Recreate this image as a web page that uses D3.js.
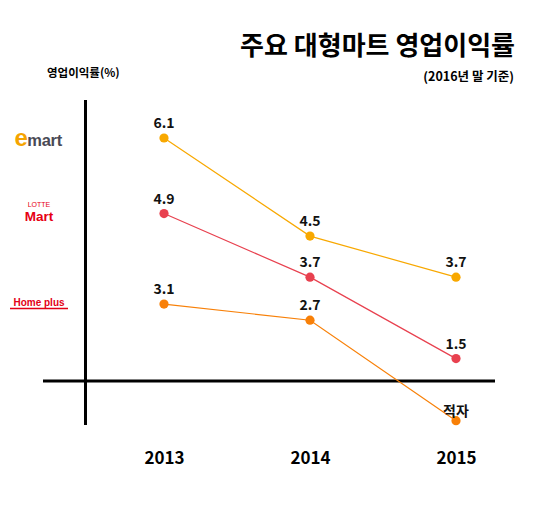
<!DOCTYPE html>
<html>
<head>
<meta charset="utf-8">
<script src="https://cdn.jsdelivr.net/npm/d3@7"></script>
<style>
  body { margin: 0; background: #fff; }
  text { font-family: "Noto Sans CJK KR", "Noto Sans", sans-serif; font-weight: bold; }
</style>
</head>
<body>
<script>
var years = ["2013", "2014", "2015"];
var emart = [6.1, 4.5, 3.7];
var lotte = [4.9, 3.7, 1.5];
var homeplus = [3.1, 2.7, -2.1];   // 2015 = deficit, shown as "적자"
var deficitLabel = "적자";

var w = 540;
var h = 518;

var svg = d3.select("body").append("svg")
  .attr("width", w)
  .attr("height", h);

var x = d3.scalePoint()
  .domain(years)
  .range([91, 529])
  .padding(0.5);

// the picture stretches the upper values, a pow scale follows it best
var y = d3.scalePow()
  .exponent(1.7)
  .domain([0, 6.1])
  .range([381, 138]);

// title
svg.append("text")
  .attr("x", 515)
  .attr("y", 55)
  .attr("text-anchor", "end")
  .style("font-size", "26px")
  .text("주요 대형마트 영업이익률");

svg.append("text")
  .attr("x", 514)
  .attr("y", 81)
  .attr("text-anchor", "end")
  .style("font-size", "12.5px")
  .text("(2016년 말 기준)");

svg.append("text")
  .attr("x", 47)
  .attr("y", 77)
  .style("font-size", "11.5px")
  .text("영업이익률(%)");

// axes
svg.append("line")
  .attr("x1", 85.5).attr("x2", 85.5)
  .attr("y1", 100).attr("y2", 425)
  .style("stroke", "#000")
  .style("stroke-width", 3);

svg.append("line")
  .attr("x1", 43).attr("x2", 495)
  .attr("y1", y(0)).attr("y2", y(0))
  .style("stroke", "#000")
  .style("stroke-width", 3);

var xAxis = svg.append("g")
  .attr("transform", "translate(0," + 447 + ")")
  .call(d3.axisBottom(x).tickSize(0).tickPadding(0));
xAxis.select(".domain").remove();
xAxis.selectAll("text")
  .attr("dy", "1em")
  .style("font-size", "17px")
  .style("font-family", "'Noto Sans CJK KR', sans-serif")
  .style("fill", "#000");

var series = [
  { name: "emart", values: emart, color: "#f8a800" },
  { name: "lotte", values: lotte, color: "#e8414f" },
  { name: "homeplus", values: homeplus, color: "#f88008" }
];

var line = d3.line()
  .x(function(d, i) { return x(years[i]); })
  .y(function(d) { return y(d); });

series.forEach(function(s) {
  var g = svg.append("g").attr("class", s.name);

  g.append("path")
    .datum(s.values)
    .attr("d", line)
    .style("fill", "none")
    .style("stroke", s.color)
    .style("stroke-width", 1.2);

  g.selectAll("circle")
    .data(s.values)
    .enter().append("circle")
    .attr("cx", function(d, i) { return x(years[i]); })
    .attr("cy", function(d) { return y(d); })
    .attr("r", 4.6)
    .style("fill", s.color);

  g.selectAll("text")
    .data(s.values)
    .enter().append("text")
    .attr("x", function(d, i) { return x(years[i]); })
    .attr("y", function(d) { return y(d) - (d < 0 ? 5 : 10); })
    .attr("text-anchor", "middle")
    .style("font-size", "14px")
    .style("fill", "#111")
    .text(function(d) { return d < 0 ? deficitLabel : d.toFixed(1); });
});

// logos, lined up with each series' first value
var emartLogo = svg.append("text")
  .attr("x", 14.5)
  .attr("y", y(emart[0]) + 7.7)
  .style("font-family", "'Liberation Sans', sans-serif");
emartLogo.append("tspan")
  .style("font-size", "24px")
  .style("fill", "#f5a400")
  .text("e");
emartLogo.append("tspan")
  .attr("dx", -0.5)
  .style("font-size", "16.5px")
  .style("letter-spacing", "-0.3px")
  .style("fill", "#4a4a55")
  .text("mart");

svg.append("text")
  .attr("x", 39)
  .attr("y", y(lotte[0]) - 6.5)
  .attr("text-anchor", "middle")
  .style("font-family", "'Liberation Sans', sans-serif")
  .style("font-size", "7px")
  .style("font-weight", "normal")
  .style("fill", "#e60012")
  .text("LOTTE");

svg.append("text")
  .attr("x", 39)
  .attr("y", y(lotte[0]) + 7.5)
  .attr("text-anchor", "middle")
  .style("font-family", "'Liberation Sans', sans-serif")
  .style("font-size", "13.5px")
  .style("fill", "#e60012")
  .text("Mart");

svg.append("text")
  .attr("x", 39)
  .attr("y", y(homeplus[0]) + 2)
  .attr("text-anchor", "middle")
  .style("font-family", "'Liberation Sans', sans-serif")
  .style("font-size", "10px")
  .style("fill", "#e30016")
  .text("Home plus");

svg.append("line")
  .attr("x1", 10).attr("x2", 68)
  .attr("y1", y(homeplus[0]) + 4.5).attr("y2", y(homeplus[0]) + 4.5)
  .style("stroke", "#e30016")
  .style("stroke-width", 1.5);
</script>
</body>
</html>
